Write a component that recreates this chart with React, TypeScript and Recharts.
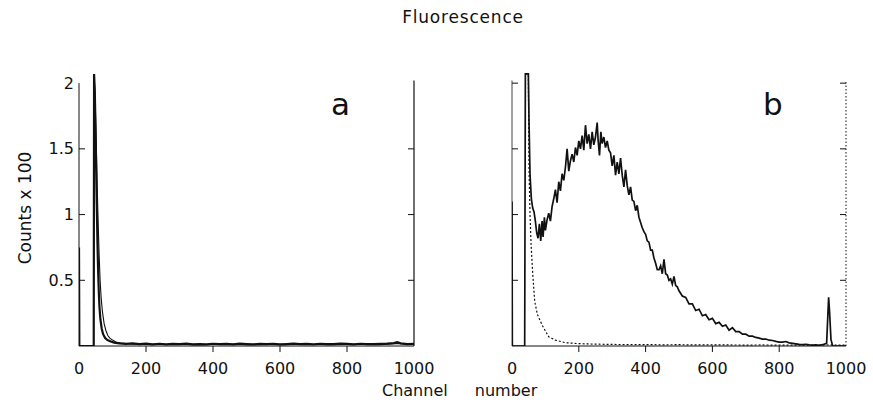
import React from 'react';
import { LineChart, Line, XAxis, YAxis, ReferenceLine } from 'recharts';

// ---- tick labels ----
const xTicks = [0, 200, 400, 600, 800, 1000];
const yTicks = [0.5, 1, 1.5, 2];

// ---- panel a : two overlapping decays ----
const chA1 = [0, 1, 44, 45, 47, 49, 51, 53, 55, 57,
  59, 61, 64, 68, 72, 78, 85, 95, 105, 120,
  140, 160, 180, 200, 220, 240, 260, 280, 300, 320,
  340, 360, 380, 400, 420, 440, 460, 480, 500, 520,
  540, 560, 580, 600, 620, 640, 660, 680, 700, 720,
  740, 760, 780, 800, 820, 840, 860, 880, 900, 920,
  940, 950, 960, 980, 1000];
const valA1 = [0.75, 0, 0, 2.07, 1.95, 1.7, 1.4, 1.08, 0.8, 0.58,
  0.42, 0.3, 0.2, 0.13, 0.09, 0.06, 0.045, 0.035, 0.025, 0.02,
  0.016, 0.02, 0.014, 0.018, 0.013, 0.017, 0.012, 0.016, 0.014, 0.018,
  0.013, 0.015, 0.012, 0.017, 0.014, 0.016, 0.013, 0.018, 0.015, 0.012,
  0.016, 0.014, 0.017, 0.013, 0.015, 0.018, 0.014, 0.016, 0.013, 0.017,
  0.015, 0.014, 0.018, 0.016, 0.013, 0.017, 0.015, 0.014, 0.016, 0.018,
  0.022, 0.03, 0.02, 0.015, 0.016];

const chA2 = [45, 48, 51, 54, 57, 60, 63, 66, 70, 75,
  80, 86, 92, 100, 110, 125, 140, 170, 200, 250,
  300, 350, 400, 450, 500, 550, 600, 650, 700, 750,
  800, 850, 900, 950, 1000];
const valA2 = [2.07, 1.9, 1.6, 1.25, 0.95, 0.7, 0.5, 0.37, 0.26, 0.17,
  0.12, 0.08, 0.06, 0.045, 0.03, 0.022, 0.018, 0.014, 0.012, 0.011,
  0.012, 0.01, 0.011, 0.012, 0.01, 0.011, 0.01, 0.012, 0.011, 0.01,
  0.012, 0.011, 0.01, 0.02, 0.012];

// ---- panel b : solid broad distribution ----
const chB1 = [0, 1, 38, 40, 49, 51, 54, 58, 62, 66, 70, 74, 78, 82, 86, 90, 93, 97, 100,
  105, 110, 115, 120, 125, 130, 135, 140, 145, 150,
  155, 160, 165, 170, 175, 180, 185, 190, 195, 200,
  205, 210, 215, 220, 225, 230, 235, 240, 245, 250,
  255, 258, 262, 266, 270, 275, 280, 285, 290, 295,
  300, 305, 310, 315, 320, 325, 330, 335, 340, 345,
  350, 355, 360, 365, 370, 375, 380, 385, 390, 395,
  400, 405, 410, 415, 420, 425, 430, 435, 440, 445,
  450, 455, 460, 465, 470, 475, 480, 485, 490, 495,
  500, 510, 520, 530, 540, 550, 560, 570, 580, 590,
  600, 610, 620, 630, 640, 650, 660, 670, 680, 690,
  700, 710, 720, 730, 740, 750, 760, 770, 780, 790,
  800, 810, 820, 830, 840, 850, 860, 870, 880, 890,
  900, 910, 920, 930, 942, 948, 951, 955, 960, 1000];
const valB1 = [1.1, 0, 0, 2.07, 2.07, 1.7, 1.3, 1.12, 1.05, 1.02, 0.95, 0.86, 0.82, 0.93, 0.8, 0.95, 0.83, 0.98, 0.88,
  0.96, 1.01, 0.95, 1.06, 1.12, 1.19, 1.09, 1.25, 1.18, 1.31,
  1.26, 1.36, 1.5, 1.33, 1.41, 1.46, 1.4, 1.51, 1.45, 1.56,
  1.5, 1.6, 1.49, 1.68, 1.54, 1.61, 1.5, 1.63, 1.53, 1.59,
  1.7, 1.56, 1.45, 1.63, 1.54, 1.59, 1.51, 1.56, 1.49, 1.47,
  1.37, 1.45, 1.3, 1.4, 1.31, 1.43, 1.3, 1.21, 1.34, 1.22,
  1.15, 1.21, 1.11, 1.1, 1.03, 1.07, 0.98, 0.94, 0.9, 0.87,
  0.85, 0.8, 0.79, 0.73, 0.73, 0.67, 0.63, 0.58, 0.58, 0.61,
  0.55, 0.66, 0.55, 0.54, 0.5, 0.51, 0.47, 0.53, 0.46, 0.45,
  0.42, 0.38, 0.37, 0.32, 0.32, 0.27, 0.28, 0.23, 0.24, 0.2,
  0.21, 0.17, 0.18, 0.15, 0.16, 0.12, 0.14, 0.11, 0.11, 0.09,
  0.09, 0.075, 0.075, 0.065, 0.06, 0.052, 0.053, 0.044, 0.042, 0.035,
  0.03, 0.03, 0.034, 0.024, 0.02, 0.016, 0.012, 0.011, 0.013, 0.008,
  0.006, 0.009, 0.005, 0.01, 0.02, 0.37, 0.25, 0.05, 0, 0];

// ---- panel b : dotted decay ----
const chB2 = [40, 49, 51, 54, 57, 62, 68, 76, 90, 110,
  130, 160, 200, 250, 300, 350, 400, 450, 500, 550,
  600, 650, 700, 750, 800, 850, 900, 950, 1000];
const valB2 = [2.07, 2.07, 1.35, 1.0, 0.78, 0.55, 0.34, 0.24, 0.16, 0.07,
  0.045, 0.025, 0.018, 0.014, 0.012, 0.01, 0.011, 0.009, 0.01, 0.008,
  0.009, 0.008, 0.007, 0.008, 0.006, 0.007, 0.006, 0.008, 0.006];

const zip = (ch: number[], v: number[]) => ch.map((c, i) => ({ ch: c, v: v[i] }));
const lineA1 = zip(chA1, valA1);
const lineA2 = zip(chA2, valA2);
const lineB1 = zip(chB1, valB1);
const lineB2 = zip(chB2, valB2);

const FONT = '"DejaVu Sans", sans-serif';
const INK = '#111';

function XTick(props: any) {
  const { x, y, payload } = props;
  const val = payload.value;
  const inner = val !== 0 && val !== 1000;
  return (
    <g>
      {inner && <line x1={x} y1={y} x2={x} y2={y + 6} stroke={INK} strokeWidth={1} />}
      <text x={x} y={y + 28} textAnchor="middle" fontFamily={FONT} fontSize={16} fill={INK}>{val}</text>
    </g>
  );
}

const makeLeftTick = (labels: boolean, tickVals: number[]) => (props: any) => {
  const { x, y, payload } = props;
  const val = payload.value;
  return (
    <g>
      {tickVals.includes(val) && <line x1={x} y1={y} x2={x + 6} y2={y} stroke={INK} strokeWidth={1} />}
      {labels && (
        <text x={x - 5} y={y} textAnchor="end" dominantBaseline="central" fontFamily={FONT} fontSize={16} fill={INK}>{val}</text>
      )}
    </g>
  );
};

const makeRightTick = (tickVals: number[]) => (props: any) => {
  const { x, y, payload } = props;
  const val = payload.value;
  return (
    <g>
      {tickVals.includes(val) && <line x1={x} y1={y} x2={x - 6} y2={y} stroke={INK} strokeWidth={1} />}
    </g>
  );
};

const leftTickA = makeLeftTick(true, [0.5, 1, 1.5]);
const rightTickA = makeRightTick([0.5, 1, 1.5]);
const leftTickB = makeLeftTick(false, [0.5, 1, 1.5, 2]);
const rightTickB = makeRightTick([0.5, 1, 1.5, 2]);

export default function App() {
  return (
    <div style={{ position: 'absolute', left: 0, top: 0, width: 873, height: 406, background: '#fff' }}>
      <div style={{ position: 'absolute', left: 0, top: 0 }}>
        <LineChart width={460} height={406} margin={{ top: 70, right: 45, bottom: 0, left: 0 }}>
          <XAxis dataKey="ch" type="number" domain={[0, 1000]} ticks={xTicks} interval={0} tickSize={0} tickMargin={0}
            height={60} tick={XTick} axisLine={{ stroke: INK }} tickLine={false} allowDataOverflow />
          <YAxis yAxisId="l" type="number" domain={[0, 2.1]} ticks={yTicks} interval={0} width={79} tickSize={0}
            tickMargin={0} axisLine={false} tickLine={false} tick={leftTickA} allowDataOverflow />
          <YAxis yAxisId="r" orientation="right" type="number" domain={[0, 2.1]} ticks={yTicks} interval={0} width={1}
            tickSize={0} tickMargin={0} axisLine={false} tickLine={false} tick={rightTickA} allowDataOverflow />
          <ReferenceLine yAxisId="l" segment={[{ x: 0, y: 0 }, { x: 0, y: 2 }]} stroke={INK} strokeWidth={1} />
          <ReferenceLine yAxisId="l" segment={[{ x: 1000, y: 0 }, { x: 1000, y: 2.02 }]} stroke={INK} strokeWidth={1.2} />
          <Line yAxisId="l" data={lineA2} dataKey="v" type="linear" stroke={INK} strokeWidth={1.1} dot={false} isAnimationActive={false} />
          <Line yAxisId="l" data={lineA1} dataKey="v" type="linear" stroke={INK} strokeWidth={2.2} dot={false} isAnimationActive={false} />
        </LineChart>
      </div>
      <div style={{ position: 'absolute', left: 433, top: 0 }}>
        <LineChart width={440} height={406} margin={{ top: 70, right: 26, bottom: 0, left: 0 }}>
          <XAxis dataKey="ch" type="number" domain={[0, 1000]} ticks={xTicks} interval={0} tickSize={0} tickMargin={0}
            height={60} tick={XTick} axisLine={{ stroke: INK }} tickLine={false} allowDataOverflow />
          <YAxis yAxisId="l" type="number" domain={[0, 2.1]} ticks={yTicks} interval={0} width={79} tickSize={0}
            tickMargin={0} axisLine={false} tickLine={false} tick={leftTickB} allowDataOverflow />
          <YAxis yAxisId="r" orientation="right" type="number" domain={[0, 2.1]} ticks={yTicks} interval={0} width={1}
            tickSize={0} tickMargin={0} axisLine={false} tickLine={false} tick={rightTickB} allowDataOverflow />
          <ReferenceLine yAxisId="l" segment={[{ x: 0, y: 0 }, { x: 0, y: 2.02 }]} stroke="#444" strokeWidth={1} />
          <ReferenceLine yAxisId="l" segment={[{ x: 1000, y: 0 }, { x: 1000, y: 2.02 }]} stroke={INK} strokeWidth={1} strokeDasharray="1.5 2" />
          <Line yAxisId="l" data={lineB2} dataKey="v" type="linear" stroke={INK} strokeWidth={1.2} strokeDasharray="2 2" dot={false} isAnimationActive={false} />
          <Line yAxisId="l" data={lineB1} dataKey="v" type="linear" stroke={INK} strokeWidth={1.7} dot={false} isAnimationActive={false} />
        </LineChart>
      </div>
      <svg width={873} height={406} style={{ position: 'absolute', left: 0, top: 0, pointerEvents: 'none' }}>
        <text x={463} y={23} textAnchor="middle" fontFamily={FONT} fontSize={17} letterSpacing={0.8} fill={INK}>Fluorescence</text>
        <text transform="translate(31,208) rotate(-90)" x={0} y={0} textAnchor="middle" fontFamily={FONT} fontSize={17} fill={INK}>Counts x 100</text>
        <text x={382} y={396} fontFamily={FONT} fontSize={16} wordSpacing={22} fill={INK}>Channel number</text>
        <text x={331} y={115} fontFamily={FONT} fontSize={31} fill={INK}>a</text>
        <text x={763} y={115} fontFamily={FONT} fontSize={31} fill={INK}>b</text>
      </svg>
    </div>
  );
}
